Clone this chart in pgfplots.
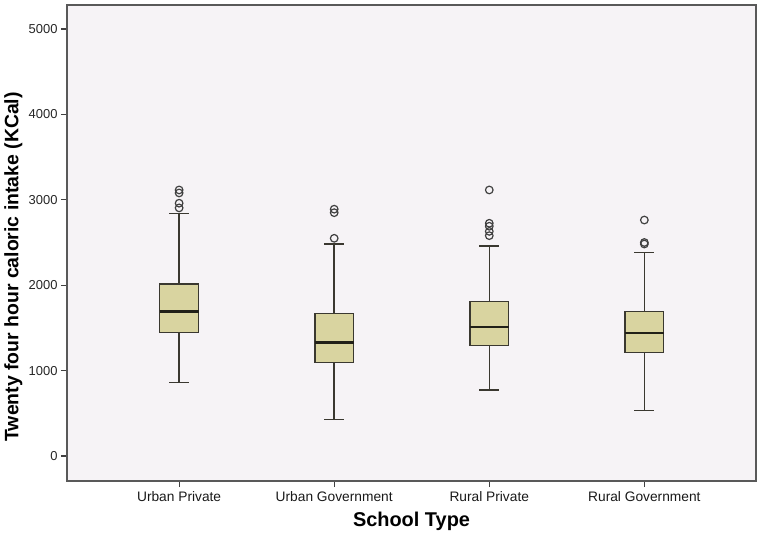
\documentclass[border=0pt]{standalone}
\usepackage{fontspec}
\setmainfont{Liberation Sans}
\usepackage{pgfplots}
\pgfplotsset{compat=1.18}
\usepgfplotslibrary{statistics}
\definecolor{boxfill}{HTML}{D9D4A0}
\definecolor{plotbg}{HTML}{F6F3F6}
\definecolor{edge}{HTML}{3A3830}
\begin{document}
\begin{tikzpicture}
\begin{axis}[
  scale only axis,
  width=689bp, height=476bp,
  xmin=-0.723, xmax=3.72,
  ymin=-293, ymax=5281,
  axis background/.style={fill=plotbg},
  axis line style={draw=black!65, line width=1.3bp},
  tick align=outside,
  major tick length=6bp,
  every tick/.style={black!75, line width=1.1bp},
  xtick={0,1,2,3},
  xticklabels={Urban Private, Urban Government, Rural Private, Rural Government},
  ytick={0,1000,2000,3000,4000,5000},
  xtick pos=bottom, ytick pos=left,
  /pgf/number format/assume math mode=true,
  /pgf/number format/1000 sep={},
  yticklabel style={font=\fontsize{13}{15}\selectfont, text=black!85},
  xticklabel style={font=\fontsize{13.8}{15}\selectfont, text=black!90, yshift=-1bp},
  xlabel={School Type},
  ylabel={Twenty four hour caloric intake (KCal)},
  xlabel style={font=\fontsize{20}{22}\selectfont\bfseries, at={(axis description cs:0.5,0)}, yshift=-40bp, anchor=center},
  ylabel style={font=\fontsize{19.5}{22}\selectfont\bfseries, at={(axis description cs:-0.078,0.45)}, anchor=center},
  boxplot/draw direction=y,
  boxplot/box extend=0.25,
  boxplot/whisker extend=0.13,
  boxplot/every box/.style={draw=edge, fill=boxfill, line width=1.5bp},
  boxplot/every whisker/.style={draw=edge, line width=1.5bp},
  boxplot/every median/.style={draw=black!85!boxfill, line width=2.4bp},
  clip=false,
]
\addplot+[solid, mark=o, mark size=3.8bp, mark options={draw=black!75, line width=1.2bp, fill=none},
  boxplot prepared={draw position=0, median=1690, upper quartile=2014, lower quartile=1444, upper whisker=2842, lower whisker=863}]
  coordinates {(0,3115) (0,3080) (0,2960) (0,2905)};
\addplot+[solid, mark=o, mark size=3.8bp, mark options={draw=black!75, line width=1.2bp, fill=none},
  boxplot prepared={draw position=1, median=1327, upper quartile=1671, lower quartile=1093, upper whisker=2482, lower whisker=430}]
  coordinates {(1,2890) (1,2849) (1,2549)};
\addplot+[solid, mark=o, mark size=3.8bp, mark options={draw=black!75, line width=1.2bp, fill=none},
  boxplot prepared={draw position=2, median=1507, upper quartile=1807, lower quartile=1292, upper whisker=2459, lower whisker=773}]
  coordinates {(2,3115) (2,2725) (2,2690) (2,2630) (2,2580)};
\addplot+[solid, mark=o, mark size=3.8bp, mark options={draw=black!75, line width=1.2bp, fill=none},
  boxplot prepared={draw position=3, median=1437, upper quartile=1690, lower quartile=1210, upper whisker=2385, lower whisker=531}]
  coordinates {(3,2763) (3,2500) (3,2482)};
\end{axis}
\useasboundingbox ([xshift=-67bp, yshift=-53.3bp]current axis.south west) rectangle ([xshift=9bp, yshift=5bp]current axis.north east);
\end{tikzpicture}
\end{document}
